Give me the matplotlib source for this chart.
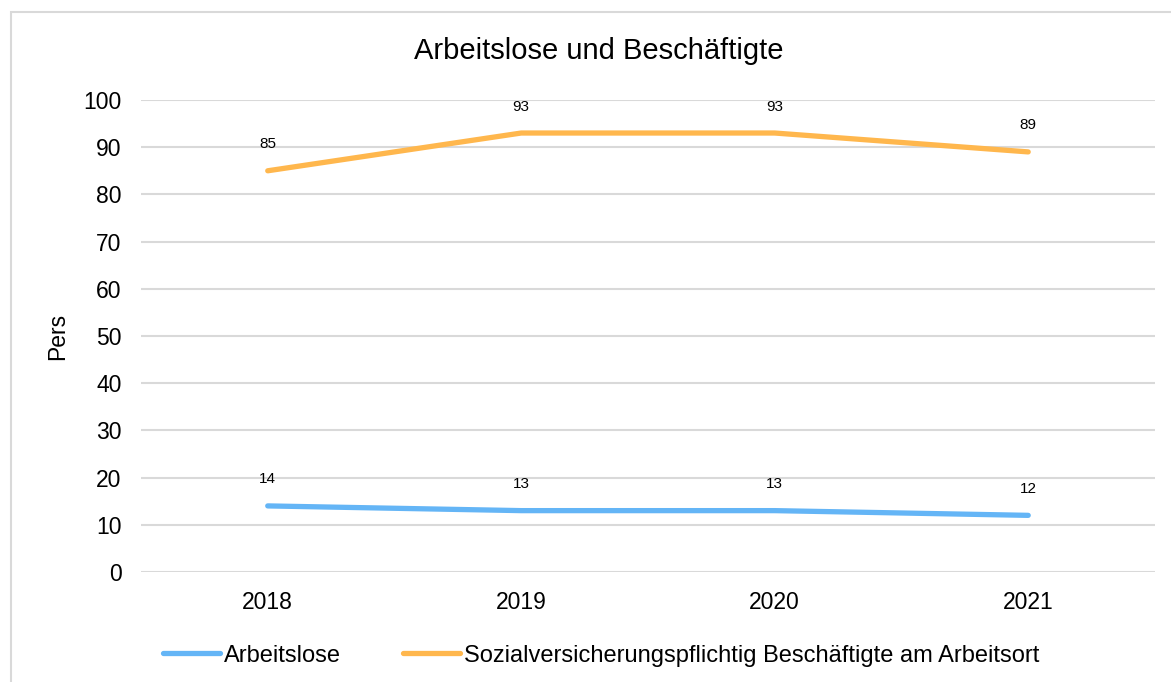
import matplotlib.pyplot as plt
from matplotlib.patches import Rectangle

plt.rcParams['font.family'] = ['Liberation Sans', 'DejaVu Sans']

# data
years = ['2018', '2019', '2020', '2021']
arbeitslose = [14, 13, 13, 12]
beschaeftigte = [85, 93, 93, 89]
y_ticks = [0, 10, 20, 30, 40, 50, 60, 70, 80, 90, 100]

blue = '#64B5F6'
orange = '#FFB74D'

fig = plt.figure(figsize=(11.71, 6.82), dpi=100)
ax = fig.add_axes([0.1204, 0.1613, 0.8659, 0.6921])

# outer chart border (only top/left visible in the picture)
fig.patches.append(Rectangle((11 / 1171, -0.1), 1.2, 1 - 12 / 682 + 0.1,
                             transform=fig.transFigure, fill=False,
                             edgecolor='#d9d9d9', lw=1.5))

x = range(len(years))
ax.plot(x, arbeitslose, color=blue, lw=3.8, solid_capstyle='round', label='Arbeitslose')
ax.plot(x, beschaeftigte, color=orange, lw=3.8, solid_capstyle='round',
        label='Sozialversicherungspflichtig Beschäftigte am Arbeitsort')

# data labels
for series in (arbeitslose, beschaeftigte):
    for i, v in enumerate(series):
        ax.annotate(str(v), (i, v), xytext=(0, 14), textcoords='offset points',
                    ha='center', va='bottom', fontsize=11)

ax.set_xlim(-0.5, 3.5)
ax.set_ylim(0, 100)
ax.set_xticks(list(x))
ax.set_xticklabels(years)
ax.set_yticks(y_ticks)
ax.tick_params(length=0, labelsize=16.5, pad=14)
ax.tick_params(axis='x', pad=14)
ax.grid(axis='y', color='#d9d9d9', lw=1.5)
ax.set_axisbelow(True)
for s in ax.spines.values():
    s.set_visible(False)

ax.set_ylabel('Pers', fontsize=16.5, labelpad=10)
fig.text(0.511, 0.925, 'Arbeitslose und Beschäftigte', ha='center', va='center', fontsize=21)

ax.legend(loc='center', bbox_to_anchor=(0.454, -0.177), ncol=2, frameon=False,
          fontsize=17, handlelength=2.4, handletextpad=0.2, columnspacing=2.6)

fig.savefig('out.png', dpi=100)
